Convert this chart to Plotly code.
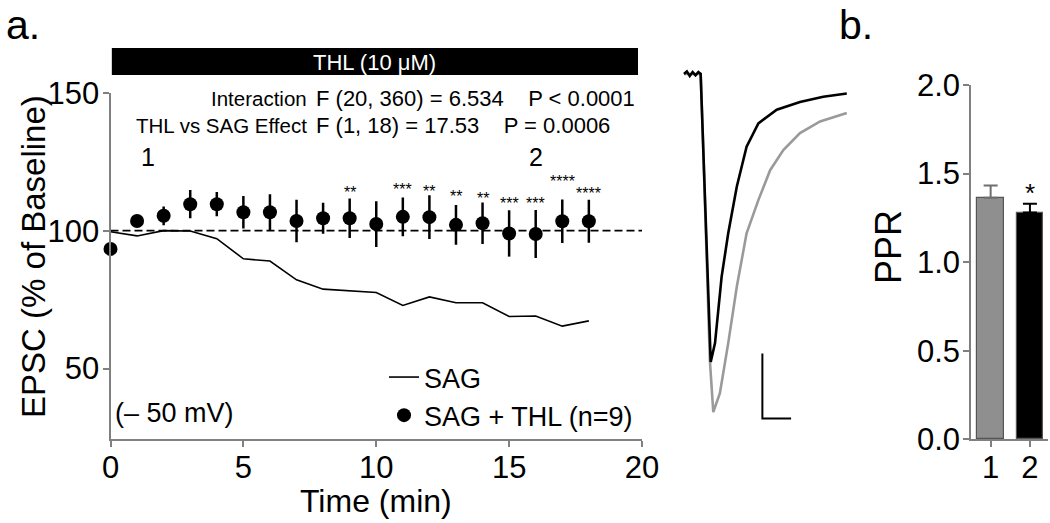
import plotly.graph_objects as go

W, H = 1050, 523
FONT = "Liberation Sans, Arial, Helvetica, sans-serif"

# ---------------- Panel a: time course ----------------
time_min = list(range(19))
sag_thl_mean = [93.4, 103.5, 105.4, 109.6, 109.6, 106.7, 106.7, 103.5, 104.5, 104.5,
                102.4, 105.0, 104.9, 102.1, 102.7, 99.0, 98.8, 103.4, 103.4]
sag_thl_sem = [1.5, 1.5, 3.4, 5.1, 4.4, 5.9, 6.5, 7.7, 5.6, 7.2,
               8.3, 7.0, 7.9, 7.2, 7.5, 8.4, 8.7, 7.9, 7.8]
sag_mean = [99.6, 98.1, 100.0, 99.9, 97.1, 89.8, 89.0, 82.2, 78.8, 78.2,
            77.6, 72.9, 76.0, 73.9, 73.9, 68.9, 69.1, 65.4, 67.3]
baseline_x = [0, 20]
baseline_y = [100, 100]
thl_period = [0.05, 19.85]
star_x = [9, 11, 12, 13, 14, 15, 16, 17, 18]
star_labels = ["**", "***", "**", "**", "**", "***", "***", "****", "****"]
star_y = [115.0, 116.1, 115.2, 113.3, 112.5, 110.8, 110.8, 118.9, 114.6]
epoch_labels = ["1", "2"]
epoch_x = [1.4, 16.0]
epoch_y = [126.8, 126.8]
x_ticks = [0, 5, 10, 15, 20]
y_ticks = [50, 100, 150]

# ---------------- Example EPSC traces ----------------
trace_t_black = [0, 1.0, 2.0, 3.0, 4.0, 5.0, 5.8, 6.5, 9.3, 10.8, 13.1, 15.4, 18.4,
                 21.8, 25.9, 32.3, 40.4, 48.5, 56.7]
trace_i_black = [0, 4, -3, 3, -2, 3, 0, -86, -443, -414, -312, -245, -173, -112,
                 -76, -55, -43, -35, -30]
trace_t_gray = [0, 5.8, 6.5, 9.0, 10.2, 12.5, 15.4, 18.4, 21.8, 25.9, 30.0, 34.6,
                40.4, 47.4, 56.7]
trace_i_gray = [0, 0, -86, -440, -520, -491, -414, -327, -245, -194, -148, -117,
                -91, -73, -60]
scalebar_t = [27.3, 27.3, 37.3]
scalebar_i = [-430, -530, -530]

# ---------------- Panel b: PPR ----------------
ppr_groups = [1, 2]
ppr_labels = ["1", "2"]
ppr_mean = [1.364, 1.280]
ppr_sem = [0.068, 0.049]
ppr_colors = ["#8f8f8f", "#000000"]
ppr_err_colors = ["#6e6e6e", "#000000"]
ppr_ticks = [0.0, 0.5, 1.0, 1.5, 2.0]
ppr_tick_text = ["0.0", "0.5", "1.0", "1.5", "2.0"]
ppr_star_y = 1.39


def px(x):
    return x / W


def py(y):
    return 1 - y / H


fig = go.Figure()

fig.add_trace(go.Scatter(x=baseline_x, y=baseline_y, mode="lines",
                         line=dict(color="black", width=1.6, dash="8px,4px"),
                         showlegend=False, hoverinfo="skip", xaxis="x", yaxis="y"))
fig.add_trace(go.Scatter(x=time_min, y=sag_mean, mode="lines", name="SAG",
                         line=dict(color="black", width=1.6),
                         xaxis="x", yaxis="y", cliponaxis=False))
fig.add_trace(go.Scatter(x=time_min, y=sag_thl_mean, mode="markers",
                         name="SAG + THL (n=9)",
                         marker=dict(color="black", size=14),
                         error_y=dict(type="data", array=sag_thl_sem, color="black",
                                      thickness=2.5, width=0),
                         xaxis="x", yaxis="y", cliponaxis=False))

fig.add_trace(go.Scatter(x=trace_t_gray, y=trace_i_gray, mode="lines",
                         line=dict(color="#9a9a9a", width=2.6),
                         showlegend=False, xaxis="x3", yaxis="y3"))
fig.add_trace(go.Scatter(x=trace_t_black, y=trace_i_black, mode="lines",
                         line=dict(color="black", width=2.6),
                         showlegend=False, xaxis="x3", yaxis="y3"))
fig.add_trace(go.Scatter(x=scalebar_t, y=scalebar_i, mode="lines",
                         line=dict(color="black", width=2),
                         showlegend=False, xaxis="x3", yaxis="y3"))

fig.add_trace(go.Bar(x=ppr_groups, y=ppr_mean, width=0.68,
                     marker=dict(color=ppr_colors, line=dict(color="#555555", width=1.2)),
                     showlegend=False, xaxis="x2", yaxis="y2"))
for g, m, s, c in zip(ppr_groups, ppr_mean, ppr_sem, ppr_err_colors):
    fig.add_trace(go.Scatter(x=[g], y=[m], mode="markers",
                             marker=dict(size=1, color="rgba(0,0,0,0)"),
                             error_y=dict(type="data", array=[s], arrayminus=[0],
                                          symmetric=False, color=c, thickness=2, width=7),
                             showlegend=False, xaxis="x2", yaxis="y2"))


def note(x, y, text, size, xref="paper", yref="paper", xanchor="center", color="black",
         angle=0):
    return dict(x=x, y=y, xref=xref, yref=yref, text=text, showarrow=False,
                xanchor=xanchor, yanchor="middle", textangle=angle, borderpad=0,
                font=dict(size=size, color=color, family=FONT))


ann = []
for sx, sl, sy in zip(star_x, star_labels, star_y):
    ann.append(note(sx, sy - 1.0, sl, 16, xref="x", yref="y"))
for ex, el, ey in zip(epoch_x, epoch_labels, epoch_y):
    ann.append(note(ex, ey, el, 25, xref="x", yref="y"))
ann.append(note((thl_period[0] + thl_period[1]) / 2, py(62), "THL (10 \u03bcM)", 22,
                xref="x", color="white"))
ann.append(note(px(308), py(98), "Interaction", 20.5, xanchor="right"))
ann.append(note(px(315), py(98),
                "F (20, 360) = 6.534&nbsp;&nbsp;&nbsp;&nbsp;P &lt; 0.0001", 22,
                xanchor="left"))
ann.append(note(px(308), py(126), "THL vs SAG Effect", 20.5, xanchor="right"))
ann.append(note(px(315), py(126),
                "F (1, 18) = 17.53&nbsp;&nbsp;&nbsp;&nbsp;P = 0.0006", 22,
                xanchor="left"))
ann.append(note(px(114), py(413), "(\u2013 50 mV)", 27, xanchor="left"))
ann.append(note(px(376), py(501), "Time (min)", 32))
ann.append(note(px(33), py(257), "EPSC (% of Baseline)", 33, angle=-90))
ann.append(note(px(888), py(247), "PPR", 36, angle=-90))
ann.append(note(px(23), py(25), "a.", 41))
ann.append(note(px(856), py(25), "b.", 41))
ann.append(note(ppr_groups[1], ppr_star_y, "*", 26, xref="x2", yref="y2"))

shapes = [dict(type="rect", xref="x", yref="paper", x0=thl_period[0], x1=thl_period[1],
               y0=py(75), y1=py(48), fillcolor="black", line=dict(width=0))]

axis_common = dict(showgrid=False, zeroline=False, showline=True, linecolor="#808080",
                   ticks="outside", tickcolor="#808080", ticklen=6, automargin=False,
                   tickfont=dict(size=31, color="black", family=FONT))

fig.update_layout(
    template="none",
    width=W, height=H, margin=dict(l=0, r=0, t=0, b=0, pad=0, autoexpand=False),
    paper_bgcolor="white", plot_bgcolor="white",
    font=dict(family=FONT, color="black"),
    showlegend=True,
    legend=dict(x=px(384), y=py(353), xanchor="left", yanchor="top",
                font=dict(size=27, color="black", family=FONT),
                bgcolor="rgba(0,0,0,0)", borderwidth=0, itemwidth=30, tracegroupgap=0),
    xaxis=dict(domain=[px(110.5), px(642)], range=[0, 20], tickvals=x_ticks,
               linewidth=2, tickwidth=1.5, ticklabelstandoff=-6, **axis_common),
    yaxis=dict(domain=[py(439), py(92.7)], range=[24.5, 150], tickvals=y_ticks,
               linewidth=2, tickwidth=1.5, ticklabelstandoff=-3, **axis_common),
    xaxis2=dict(domain=[px(971), px(1048)], range=[0.5, 2.46], tickvals=ppr_groups,
                ticktext=ppr_labels, linewidth=1.5, tickwidth=1.5, anchor="y2",
                ticklabelstandoff=-6, **axis_common),
    yaxis2=dict(domain=[py(439.3), py(85)], range=[0, 2.0], tickvals=ppr_ticks,
                ticktext=ppr_tick_text, linewidth=1.5, tickwidth=1.5, anchor="x2",
                ticklabelstandoff=-3, **axis_common),
    xaxis3=dict(domain=[px(660), px(860)], range=[-8.36, 61.3], visible=False,
                anchor="y3"),
    yaxis3=dict(domain=[py(440), py(60)], range=[-563, 21.5], visible=False,
                anchor="x3"),
    annotations=ann,
    shapes=shapes,
    bargap=0,
)

fig.write_html("out.html",
               config={"displayModeBar": False},
               post_script="document.body.style.margin='0px';"
                           "document.body.style.overflow='hidden';")
